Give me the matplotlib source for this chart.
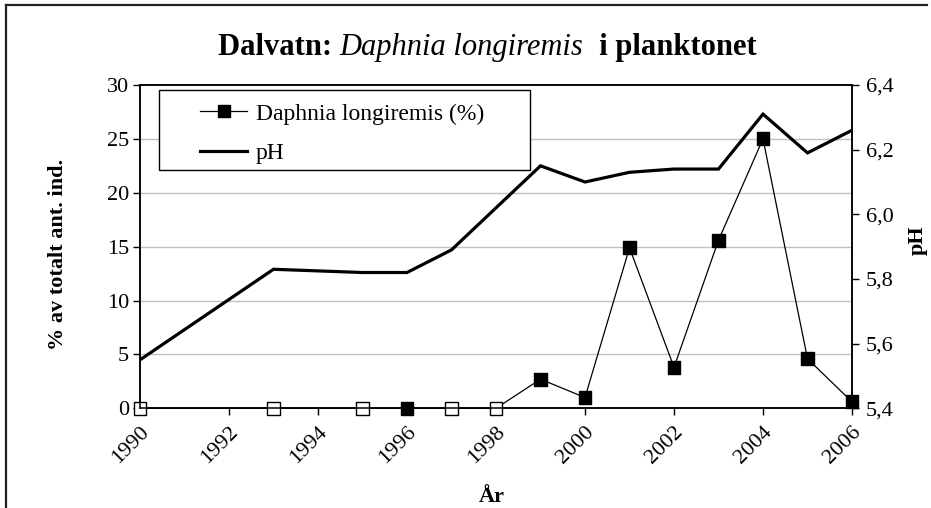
import matplotlib
matplotlib.use("Agg")
import matplotlib.pyplot as plt
from matplotlib.lines import Line2D
from matplotlib.patches import Rectangle
from matplotlib.ticker import FuncFormatter

# ---- data ----
years = [1990, 1993, 1995, 1996, 1997, 1998, 1999, 2000, 2001, 2002, 2003, 2004, 2005, 2006]
daphnia_pct = [0, 0, 0, 0, 0, 0, 2.7, 1.0, 14.9, 3.8, 15.6, 25.0, 4.6, 0.6]
open_marker = [True, True, True, False, True, True, False, False, False, False, False, False, False, False]
ph = [5.55, 5.83, 5.82, 5.82, 5.89, 6.02, 6.15, 6.10, 6.13, 6.14, 6.14, 6.31, 6.19, 6.26]
x_ticks = [1990, 1992, 1994, 1996, 1998, 2000, 2002, 2004, 2006]
left_ticks = [0, 5, 10, 15, 20, 25, 30]
right_ticks = [5.4, 5.6, 5.8, 6.0, 6.2, 6.4]

title_parts = ["Dalvatn: ", "Daphnia longiremis", "  i planktonet"]
ylabel_left = "% av totalt ant. ind."
ylabel_right = "pH"
xlabel = "År"
legend_labels = ["Daphnia longiremis (%)", "pH"]

serif = ["Liberation Serif", "DejaVu Serif"]
plt.rcParams["font.family"] = serif

W, H = 931, 508
fig = plt.figure(figsize=(W / 100, H / 100), dpi=100)

L, R, T, B = 140, 852, 85, 408.3
ax = fig.add_axes([L / W, 1 - B / H, (R - L) / W, (B - T) / H])
ax2 = ax.twinx()

TICK_FS = 16
LAB_FS = 16

# left axis
ax.set_xlim(1990, 2006)
ax.set_ylim(0, 30)
ax.set_yticks(left_ticks)
ax.set_xticks(x_ticks)
ax.set_xticklabels([str(t) for t in x_ticks], rotation=45, ha="right", va="top",
                   rotation_mode="anchor", fontsize=TICK_FS)
ax.tick_params(axis="x", direction="out", length=5, width=1, pad=5)
ax.tick_params(axis="y", direction="out", length=5, width=1, labelsize=TICK_FS, pad=3)
for t in left_ticks[1:-1]:
    ax.axhline(t, color="#c0c0c0", lw=1, zorder=0)

ax.plot(years, daphnia_pct, color="black", lw=0.9, zorder=3, clip_on=False)
fc = ["white" if o else "black" for o in open_marker]
ax.scatter(years, daphnia_pct, marker="s", s=85, facecolors=fc, edgecolors="black",
           linewidths=1.0, zorder=4, clip_on=False)

for sp in ax.spines.values():
    sp.set_linewidth(1.1)
    sp.set_color("black")

ax.set_ylabel(ylabel_left, fontsize=LAB_FS, fontweight="bold", va="center")
ax.yaxis.set_label_coords((58 - L) / (R - L), (B - 254) / (B - T))
ax.set_xlabel(xlabel, fontsize=LAB_FS, fontweight="bold", va="bottom")
ax.xaxis.set_label_coords((492 - L) / (R - L), (B - 507) / (B - T))

# right axis
ax2.set_ylim(5.4, 6.4)
ax2.set_yticks(right_ticks)
ax2.yaxis.set_major_formatter(FuncFormatter(lambda v, p: f"{v:.1f}".replace(".", ",")))
ax2.tick_params(axis="y", direction="out", length=5, width=1, labelsize=TICK_FS, pad=5)
ax2.plot(years, ph, color="black", lw=2.3, zorder=5, solid_joinstyle="miter")
ax2.set_ylabel(ylabel_right, fontsize=LAB_FS, fontweight="bold", rotation=90, va="center")
ax2.yaxis.set_label_coords((918 - L) / (R - L), (B - 240) / (B - T))
for sp in ax2.spines.values():
    sp.set_linewidth(1.1)
    sp.set_color("black")

# legend (frame drawn as rectangle)
handles = [
    Line2D([], [], color="black", lw=0.9, marker="s", markersize=8,
           markerfacecolor="black", markeredgecolor="black"),
    Line2D([], [], color="black", lw=2.3),
]
leg = ax2.legend(handles, legend_labels, loc="upper left",
                 bbox_to_anchor=((200 - L) / (R - L), (B - 103) / (B - T)),
                 frameon=False, fontsize=17, handlelength=2.0, handletextpad=0.37,
                 labelspacing=0.75, borderpad=0.0, borderaxespad=0)
rect = Rectangle(((159 - L) / (R - L), (B - 170) / (B - T)),
                 (530 - 159) / (R - L), (170 - 90) / (B - T),
                 transform=ax2.transAxes, facecolor="white", edgecolor="black",
                 lw=1.0, zorder=6)
ax2.add_patch(rect)
leg.set_zorder(7)

# title composed of three parts
TITLE_FS = 22
TY = 1 - 55 / H
t1 = fig.text(218 / W, TY, title_parts[0], fontsize=TITLE_FS, fontweight="bold",
              ha="left", va="baseline")
fig.canvas.draw()
r = fig.canvas.get_renderer()
bb1 = t1.get_window_extent(r)
t2 = fig.text(bb1.x1 / W, TY, title_parts[1], fontsize=TITLE_FS, fontstyle="italic",
              ha="left", va="baseline")
bb2 = t2.get_window_extent(r)
t3 = fig.text(bb2.x1 / W, TY, title_parts[2], fontsize=TITLE_FS, fontweight="bold",
              ha="left", va="baseline")

# outer chart border (partially visible)
fig.add_artist(Line2D([6 / W, 6 / W], [0, 1 - 5 / H], transform=fig.transFigure,
                      color="#222222", lw=1.6))
fig.add_artist(Line2D([6 / W, 927 / W], [1 - 5 / H, 1 - 5 / H], transform=fig.transFigure,
                      color="#222222", lw=1.6))

fig.savefig("out.png", dpi=100)
